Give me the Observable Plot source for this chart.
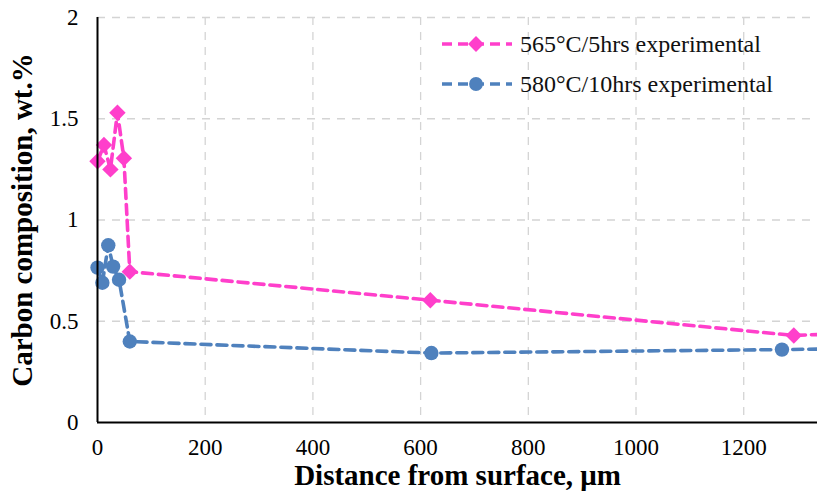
<!DOCTYPE html>
<html>
<head>
<meta charset="utf-8">
<script src="https://cdn.jsdelivr.net/npm/d3@7"></script>
<script src="https://cdn.jsdelivr.net/npm/@observablehq/plot@0.6"></script>
<style>
  body { margin: 0; background: #fff; }
  #wrap { position: relative; width: 817px; height: 491px; overflow: hidden; }
  #wrap svg text { font-family: "Liberation Serif", "Times New Roman", serif; }
  [aria-label="y-axis label"] text, [aria-label="x-axis label"] text { font-weight: bold; font-size: 29px; fill: #000; }
  #legend { position: absolute; left: 440px; top: 24px; font-size: 24px; color: #111; font-family: "Liberation Serif", "Times New Roman", serif; }
  #legend .row { display: flex; align-items: center; height: 40px; }
  #legend svg { margin-right: 6px; }
</style>
</head>
<body>
<div id="wrap"></div>
<script>
// Series: 565°C/5hrs experimental
const pinkX = [0, 12, 24, 37, 49, 60, 618, 1293, 1400];
const pinkY = [1.29, 1.37, 1.25, 1.53, 1.305, 0.745, 0.604, 0.43, 0.44];
// Series: 580°C/10hrs experimental
const blueX = [0, 9, 20, 29, 40, 60, 620, 1271, 1400];
const blueY = [0.765, 0.69, 0.875, 0.77, 0.705, 0.40, 0.343, 0.36, 0.365];

const xTicks = [0, 200, 400, 600, 800, 1000, 1200];
const yTicks = [0, 0.5, 1, 1.5, 2];
const seriesNames = ["565°C/5hrs experimental", "580°C/10hrs experimental"];
const colors = ["#ff3fcb", "#4f81bd"];

const pink = pinkX.map((x, i) => ({x, y: pinkY[i]}));
const blue = blueX.map((x, i) => ({x, y: blueY[i]}));

const lineStyle = {strokeWidth: 3.6, strokeDasharray: "10,6"};
const fmt = d => String(d);

const chart = Plot.plot({
  width: 817,
  height: 491,
  marginLeft: 97,
  marginTop: 17,
  marginBottom: 69,
  marginRight: 0,
  x: {domain: [0, 1337]},
  y: {domain: [0, 2]},
  style: {fontSize: "23px", color: "#000", fontFamily: "Liberation Serif, serif", overflow: "visible"},
  marks: [
    Plot.gridX(xTicks.slice(1), {stroke: "#d4d4d4", strokeOpacity: 1, strokeWidth: 1.3, strokeDasharray: "8,7"}),
    Plot.gridY(yTicks.slice(1), {stroke: "#d4d4d4", strokeOpacity: 1, strokeWidth: 1.3, strokeDasharray: "8,7"}),
    Plot.axisX(xTicks, {tickSize: 0, tickPadding: 16, fontSize: 23, tickFormat: fmt, label: "Distance from surface, μm", labelAnchor: "center", labelArrow: "none", labelOffset: 62}),
    Plot.axisY(yTicks, {tickSize: 0, tickPadding: 19, fontSize: 23, tickFormat: fmt, label: "Carbon composition, wt.%", labelAnchor: "center", labelArrow: "none", labelOffset: 86}),
    Plot.line(blue, {x: "x", y: "y", stroke: colors[1], ...lineStyle}),
    Plot.dot(blue, {x: "x", y: "y", fill: colors[1], r: 7.2, symbol: "circle"}),
    Plot.line(pink, {x: "x", y: "y", stroke: colors[0], ...lineStyle}),
    Plot.dot(pink, {x: "x", y: "y", fill: colors[0], r: 7.4, symbol: "diamond2"}),
    Plot.ruleX([0], {stroke: "#000", strokeWidth: 2}),
    Plot.ruleY([0], {stroke: "#000", strokeWidth: 2})
  ]
});

const wrap = document.getElementById("wrap");
wrap.appendChild(chart);

// Legend
const legend = document.createElement("div");
legend.id = "legend";
const syms = ["diamond2", "circle"];
seriesNames.forEach((name, i) => {
  const row = document.createElement("div");
  row.className = "row";
  const s = d3.create("svg").attr("width", 74).attr("height", 20);
  s.append("line").attr("x1", 2).attr("x2", 72).attr("y1", 10).attr("y2", 10)
    .attr("stroke", colors[i]).attr("stroke-width", 3.6).attr("stroke-dasharray", "10,6");
  s.append("path").attr("transform", "translate(36,10)")
    .attr("d", (syms[i] === "circle" ? d3.symbol(d3.symbolCircle, 150) : d3.symbol(d3.symbolDiamond2, 160))())
    .attr("fill", colors[i]);
  row.appendChild(s.node());
  const t = document.createElement("span");
  t.textContent = name;
  row.appendChild(t);
  legend.appendChild(row);
});
wrap.appendChild(legend);
</script>
</body>
</html>
